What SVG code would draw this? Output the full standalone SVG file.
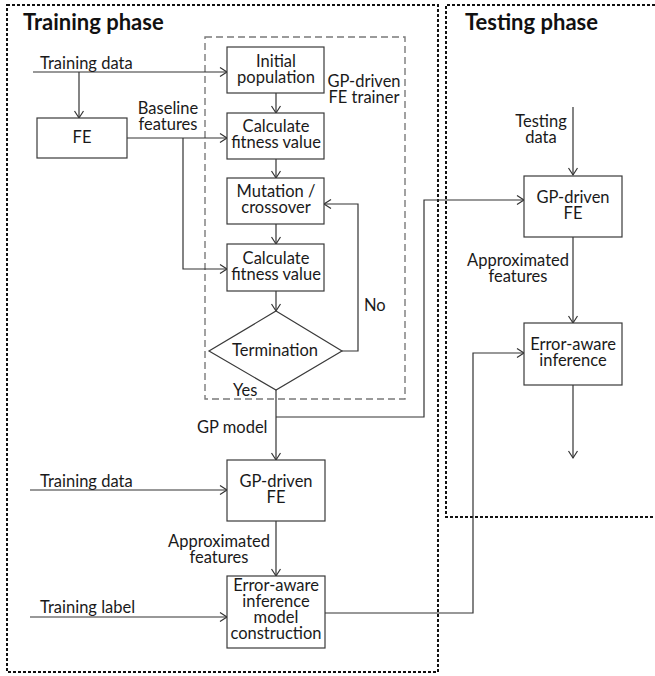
<svg xmlns="http://www.w3.org/2000/svg" width="655" height="676" viewBox="0 0 655 676">
<defs>
<marker id="arr" markerWidth="10" markerHeight="10" refX="8" refY="5" orient="auto" markerUnits="userSpaceOnUse">
<path d="M1,0.5 L8,5 L1,9.5" fill="none" stroke="#333" stroke-width="1.2"/>
</marker>
</defs>
<style>
text{font-family:Lato,"Open Sans","Liberation Sans",sans-serif;font-size:16.5px;fill:#1a1a1a}
.t{font-weight:bold;font-size:22px;fill:#111}
.c{text-anchor:middle}
.box{fill:#fff;stroke:#3a3a3a;stroke-width:1.2}
.ln{fill:none;stroke:#333;stroke-width:1.2}
.ar{marker-end:url(#arr)}
.dot{fill:none;stroke:#111;stroke-width:2;stroke-dasharray:3 2}
.dash{fill:none;stroke:#7a7a7a;stroke-width:1.4;stroke-dasharray:7 4}
</style>
<rect width="655" height="676" fill="#fff"/>

<g id="training-phase">
<path class="dot" d="M7,5 H438 V672 H7 Z"/>
<text class="t" x="23" y="30">Training phase</text>
</g>
<g id="testing-phase">
<path class="dot" d="M655,5 H446 V517 H655"/>
<text class="t" x="465" y="30">Testing phase</text>
</g>
<g id="gp-trainer">
<rect class="dash" x="205" y="37" width="200" height="362"/>
<text class="c" x="364" y="87">GP-driven</text>
<text class="c" x="364" y="103">FE trainer</text>
</g>

<g id="connectors">
<path class="ln ar" d="M33,72 H227"/>
<path class="ln ar" d="M79,72 V118"/>
<path class="ln ar" d="M126,138 H227"/>
<path class="ln ar" d="M183,138 V269 H227"/>
<path class="ln ar" d="M276,93 V113"/>
<path class="ln ar" d="M276,159 V178"/>
<path class="ln ar" d="M276,224 V244"/>
<path class="ln ar" d="M276,291 V311"/>
<path class="ln ar" d="M342,351 H358 V204 H324"/>
<path class="ln ar" d="M276,390 V460"/>
<path class="ln ar" d="M276,417 H424 V200 H524"/>
<path class="ln ar" d="M30,490 H227"/>
<path class="ln ar" d="M276,521 V576"/>
<path class="ln ar" d="M30,617 H227"/>
<path class="ln ar" d="M325,613 H473 V353 H524"/>
<path class="ln ar" d="M573,107 V175"/>
<path class="ln ar" d="M573,237 V323"/>
<path class="ln ar" d="M573,385 V458"/>
<text x="40" y="69">Training data</text>
<text class="c" x="168" y="114">Baseline</text>
<text class="c" x="168" y="130">features</text>
<text x="364" y="311">No</text>
<text x="233" y="396">Yes</text>
<text x="197" y="433">GP model</text>
<text x="40" y="487">Training data</text>
<text class="c" x="219" y="547">Approximated</text>
<text class="c" x="219" y="563">features</text>
<text x="40" y="613">Training label</text>
<text class="c" x="541" y="127">Testing</text>
<text class="c" x="541" y="143">data</text>
<text class="c" x="518" y="266">Approximated</text>
<text class="c" x="518" y="282">features</text>
</g>

<g id="fe">
<rect class="box" x="37" y="118" width="90" height="40"/>
<text class="c" x="82" y="143">FE</text>
</g>
<g id="initial-population">
<rect class="box" x="227" y="47" width="97" height="46"/>
<text class="c" x="276" y="67">Initial</text>
<text class="c" x="276" y="83">population</text>
</g>
<g id="calc-fitness-1">
<rect class="box" x="227" y="113" width="97" height="46"/>
<text class="c" x="276" y="132">Calculate</text>
<text class="c" x="276" y="148">fitness value</text>
</g>
<g id="mutation">
<rect class="box" x="227" y="178" width="97" height="46"/>
<text class="c" x="276" y="197">Mutation /</text>
<text class="c" x="276" y="213">crossover</text>
</g>
<g id="calc-fitness-2">
<rect class="box" x="227" y="244" width="97" height="47"/>
<text class="c" x="276" y="264">Calculate</text>
<text class="c" x="276" y="280">fitness value</text>
</g>
<g id="termination">
<path class="box" d="M276,311 L342,351 L276,390 L209,351 Z"/>
<text class="c" x="275" y="356">Termination</text>
</g>
<g id="gp-fe-train">
<rect class="box" x="227" y="460" width="98" height="61"/>
<text class="c" x="276" y="487">GP-driven</text>
<text class="c" x="276" y="503">FE</text>
</g>
<g id="error-aware-construction">
<rect class="box" x="227" y="576" width="98" height="72"/>
<text class="c" x="276" y="591">Error-aware</text>
<text class="c" x="276" y="607">inference</text>
<text class="c" x="276" y="623">model</text>
<text class="c" x="276" y="639">construction</text>
</g>
<g id="gp-fe-test">
<rect class="box" x="524" y="176" width="98" height="61"/>
<text class="c" x="573" y="203">GP-driven</text>
<text class="c" x="573" y="219">FE</text>
</g>
<g id="error-aware-inference">
<rect class="box" x="524" y="323" width="98" height="62"/>
<text class="c" x="573" y="350">Error-aware</text>
<text class="c" x="573" y="366">inference</text>
</g>
</svg>
